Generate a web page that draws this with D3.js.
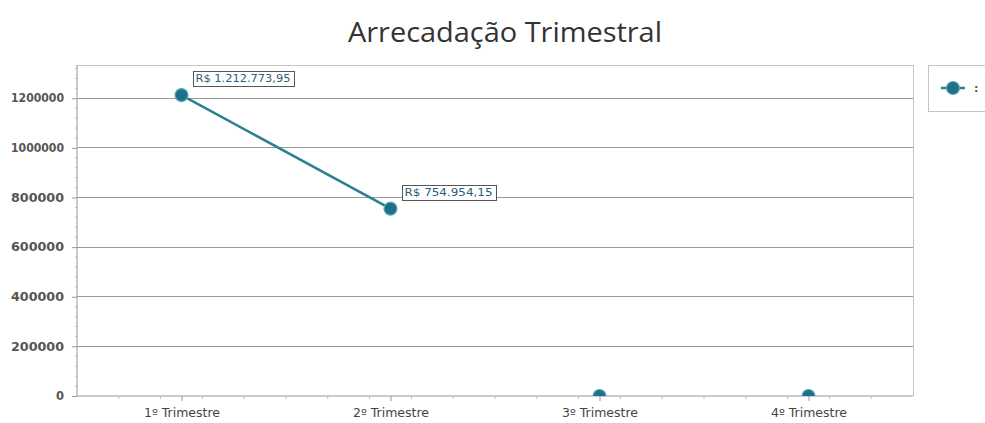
<!DOCTYPE html>
<html><head><meta charset="utf-8">
<script src="https://cdn.jsdelivr.net/npm/d3@7"></script>
<style>body{margin:0;background:#fff;} svg{display:block;}</style>
</head><body>
<svg id="chart" width="985" height="423"></svg>
<script>
const categories = ["1º Trimestre", "2º Trimestre", "3º Trimestre", "4º Trimestre"];
const values = [1212773.95, 754954.15, 0, 0];
const yTicks = [0, 200000, 400000, 600000, 800000, 1000000, 1200000];
const title = "Arrecadação Trimestral";
const legendLabel = ":";

const svg = d3.select("#chart");
const m = {left: 77, right: 913, top: 65, bottom: 396};
const x = d3.scalePoint().domain(categories).range([m.left, m.right]).padding(0.5);
const y = d3.scaleLinear().domain([0, d3.max(values) * 1.1]).range([m.bottom, m.top]);
const fmt = v => "R$ " + v.toLocaleString("pt-BR", {minimumFractionDigits: 2, maximumFractionDigits: 2});

svg.append("text").attr("x", 505).attr("y", 42).attr("text-anchor", "middle")
  .attr("font-family", "Open Sans, Noto Sans, sans-serif").attr("font-size", 28).attr("fill", "#333")
  .attr("textLength", 314).attr("lengthAdjust", "spacingAndGlyphs")
  .text(title);

// gridlines
svg.append("g").selectAll("line").data(yTicks.filter(d => d > 0)).join("line")
  .attr("x1", m.left).attr("x2", m.right).attr("y1", d => y(d)).attr("y2", d => y(d))
  .attr("stroke", "#9a9a9a").attr("stroke-width", 1).attr("shape-rendering", "crispEdges");

// plot border top/right
svg.append("path").attr("d", `M${m.left},${m.top}H${m.right}V${m.bottom}`)
  .attr("fill", "none").attr("stroke", "#c4c4c4").attr("shape-rendering", "crispEdges");

// y axis
const yAxis = svg.append("g").attr("transform", `translate(${m.left},0)`)
  .call(d3.axisLeft(y).tickValues(yTicks).tickFormat(d3.format("d")).tickSize(5).tickPadding(8));
yAxis.select(".domain").attr("stroke", "#999").attr("d", `M0,${m.top}V${m.bottom}`);
yAxis.selectAll(".tick line").attr("stroke", "#999");
yAxis.selectAll("text").attr("font-family", "DejaVu Sans, sans-serif").attr("font-size", 11.5)
  .attr("font-weight", "bold").attr("fill", "#555").attr("textLength", 53).attr("lengthAdjust", "spacingAndGlyphs");
yAxis.selectAll(".tick text").filter(d => d === 0).attr("textLength", null);
// y minor ticks
const yMinor = d3.range(0, y.domain()[1], 40000).filter(v => v % 200000 !== 0);
svg.append("g").selectAll("line").data(yMinor).join("line")
  .attr("x1", m.left - 2).attr("x2", m.left).attr("y1", d => y(d)).attr("y2", d => y(d))
  .attr("stroke", "#bbb");

// x axis
const xAxis = svg.append("g").attr("transform", `translate(0,${m.bottom})`)
  .call(d3.axisBottom(x).tickSize(5).tickPadding(8));
xAxis.select(".domain").attr("stroke", "#999").attr("d", `M${m.left},0H${m.right}`);
xAxis.selectAll(".tick line").attr("stroke", "#999");
xAxis.selectAll("text").attr("font-family", "DejaVu Sans, sans-serif").attr("font-size", 11.5)
  .attr("fill", "#444").attr("textLength", 76).attr("lengthAdjust", "spacingAndGlyphs");
// x minor ticks
const step = x.step();
const xMinor = d3.range(0, 21).map(i => m.left + i * step / 5).filter(v => v > m.left && v < m.right);
svg.append("g").selectAll("line").data(xMinor).join("line")
  .attr("x1", d => d).attr("x2", d => d).attr("y1", m.bottom).attr("y2", m.bottom + 3)
  .attr("stroke", "#bbb");

// clip
svg.append("clipPath").attr("id", "clip").append("rect")
  .attr("x", m.left).attr("y", m.top - 10).attr("width", m.right - m.left).attr("height", m.bottom - m.top + 10);

const g = svg.append("g").attr("clip-path", "url(#clip)");
const line = d3.line().defined(d => d > 0).x((d, i) => x(categories[i])).y(d => y(d));
g.append("path").datum(values).attr("d", line).attr("fill", "none")
  .attr("stroke", "#2e7f92").attr("stroke-width", 2.5);
g.selectAll("circle").data(values).join("circle")
  .attr("cx", (d, i) => x(categories[i])).attr("cy", d => y(d)).attr("r", 6.5)
  .attr("fill", "#1f6f87").attr("stroke", "#5aaac2").attr("stroke-width", 1.2);

// data labels
const lbl = svg.append("g");
values.forEach((v, i) => {
  if (!v) return;
  const cx = x(categories[i]), cy = y(v);
  const t = lbl.append("text").attr("x", cx + 14).attr("y", cy - 13)
    .attr("font-family", "DejaVu Sans, sans-serif").attr("font-size", 11).attr("fill", "#2a5f7a")
    .attr("textLength", i === 0 ? 95 : 88).attr("lengthAdjust", "spacingAndGlyphs")
    .text(fmt(v));
  const bb = t.node().getBBox();
  lbl.insert("rect", "text").attr("x", Math.round(bb.x - 3) + 0.5).attr("y", Math.round(bb.y - 1) + 0.5)
    .attr("width", Math.round(bb.width + 6)).attr("height", Math.round(bb.height + 2))
    .attr("fill", "#fff").attr("stroke", "#555");
});

// legend
const lg = svg.append("g");
lg.append("rect").attr("x", 928.5).attr("y", 65.5).attr("width", 70).attr("height", 46)
  .attr("fill", "#fff").attr("stroke", "#c4c4c4");
lg.append("line").attr("x1", 941).attr("x2", 965).attr("y1", 88).attr("y2", 88)
  .attr("stroke", "#2e7f92").attr("stroke-width", 2.5);
lg.append("circle").attr("cx", 953).attr("cy", 88).attr("r", 6.5)
  .attr("fill", "#1f6f87").attr("stroke", "#5aaac2").attr("stroke-width", 1.2);
lg.append("text").attr("x", 974).attr("y", 92).attr("font-family", "DejaVu Sans, sans-serif")
  .attr("font-size", 11).attr("font-weight", "bold").attr("fill", "#555").text(legendLabel);
</script>
</body></html>
